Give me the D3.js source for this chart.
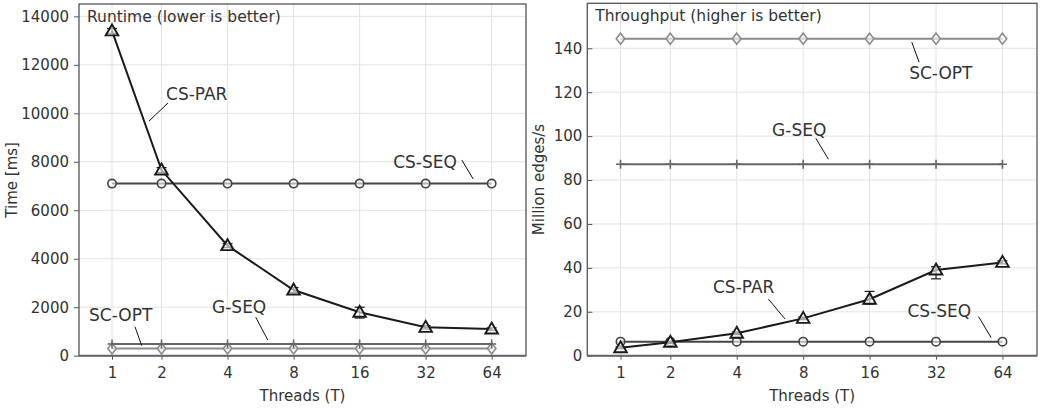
<!DOCTYPE html>
<html>
<head>
<meta charset="utf-8">
<script src="https://cdn.jsdelivr.net/npm/d3@7"></script>
<style>
  body { margin: 0; background: #fff; }
  svg text { font-family: "DejaVu Sans", sans-serif; fill: #333; }
</style>
</head>
<body>
<div id="chart"></div>
<script>
// thread counts on the x axis
var threads = [1, 2, 4, 8, 16, 32, 64];

// runtime in ms (left panel)
var rtCsPar = [13400, 7660, 4540, 2710, 1790, 1170, 1100];
var rtCsParLo = [13300, 7560, 4460, 2610, 1555, 1100, 1050];
var rtCsParHi = [13500, 7760, 4620, 2810, 2000, 1240, 1150];
var rtCsSeq = [7100, 7100, 7100, 7100, 7100, 7100, 7100];
var rtGSeq = [480, 480, 480, 480, 480, 480, 480];
var rtScOpt = [300, 300, 300, 300, 300, 300, 300];
var rtTicks = [0, 2000, 4000, 6000, 8000, 10000, 12000, 14000];

// throughput in million edges/s (right panel)
var tpCsPar = [3.6, 6.1, 10.2, 17.0, 25.7, 39.0, 42.5];
var tpCsParLo = [3.2, 5.6, 9.6, 16.4, 23.5, 35.0, 41.8];
var tpCsParHi = [4.0, 6.6, 10.8, 17.6, 29.3, 40.5, 43.2];
var tpCsSeq = [6.4, 6.4, 6.4, 6.4, 6.4, 6.4, 6.4];
var tpGSeq = [87.2, 87.2, 87.2, 87.2, 87.2, 87.2, 87.2];
var tpScOpt = [144.4, 144.4, 144.4, 144.4, 144.4, 144.4, 144.4];
var tpTicks = [0, 20, 40, 60, 80, 100, 120, 140];

var W = 1041, H = 411;
var svg = d3.select('#chart').append('svg').attr('width', W).attr('height', H);

// the x axis is log2 spaced, except that 1 sits a bit closer to 2
function xpos(t) { return t === 1 ? 0.25 : Math.log2(t); }

var styles = {
    'CS-PAR': {color: '#1a1a1a', marker: 'triangle'},
    'CS-SEQ': {color: '#444', marker: 'circle'},
    'G-SEQ': {color: '#666', marker: 'plus'},
    'SC-OPT': {color: '#8c8c8c', marker: 'diamond'}
};

function drawPanel(opt) {
    var x = d3.scaleLinear().domain([-0.25, 6.52]).range([opt.left, opt.right]);
    var y = d3.scaleLinear().domain([0, opt.ymax]).range([opt.bottom, opt.top]);
    var g = svg.append('g');

    // grid
    g.selectAll('.vg').data(threads).enter().append('line')
        .attr('x1', function(d){ return x(xpos(d)); }).attr('x2', function(d){ return x(xpos(d)); })
        .attr('y1', opt.top).attr('y2', opt.bottom)
        .attr('stroke', '#e3e3e3').attr('stroke-width', 1);
    g.selectAll('.hg').data(opt.ticks.slice(1)).enter().append('line')
        .attr('x1', opt.left).attr('x2', opt.right)
        .attr('y1', function(d){ return y(d); }).attr('y2', function(d){ return y(d); })
        .attr('stroke', '#e3e3e3').attr('stroke-width', 1);

    // axes
    var ya = opt.tickInside ? d3.axisRight(y) : d3.axisLeft(y);
    var yg = g.append('g').attr('transform', 'translate(' + opt.left + ',0)')
        .call(ya.tickValues(opt.ticks).tickFormat(d3.format('d')).tickSize(5).tickPadding(5));
    yg.select('.domain').remove();
    yg.selectAll('line').attr('stroke', '#555');
    yg.selectAll('text').attr('font-size', 15).attr('fill', '#333');
    if (opt.tickInside) {
        yg.selectAll('text').attr('text-anchor', 'end').attr('x', -5);
    }

    var xa = d3.axisBottom(x).tickValues(threads.map(xpos))
        .tickFormat(function(d, i){ return threads[i]; }).tickSize(4).tickPadding(8);
    var xg = g.append('g').attr('transform', 'translate(0,' + opt.bottom + ')').call(xa);
    xg.select('.domain').remove();
    xg.selectAll('line').attr('stroke', '#555');
    xg.selectAll('text').attr('font-size', 15).attr('fill', '#333');

    // frame
    g.append('rect').attr('x', opt.left).attr('y', opt.top)
        .attr('width', opt.right - opt.left).attr('height', opt.bottom - opt.top)
        .attr('fill', 'none').attr('stroke', '#555').attr('stroke-width', 1.3);
    g.append('line').attr('x1', opt.left).attr('x2', opt.right).attr('y1', opt.bottom).attr('y2', opt.bottom)
        .attr('stroke', '#666').attr('stroke-width', 2);

    // labels
    g.append('text').attr('x', (opt.left + opt.right) / 2).attr('y', 401)
        .attr('text-anchor', 'middle').attr('font-size', 15).text('Threads (T)');
    g.append('text').attr('transform', 'translate(' + opt.ylabelX + ',' + ((opt.top + opt.bottom) / 2) + ') rotate(-90)')
        .attr('text-anchor', 'middle').attr('font-size', 15).text(opt.ylabel);
    g.append('text').attr('x', opt.left + 8).attr('y', opt.top + 18)
        .attr('font-size', 15.5).attr('fill', '#111').text(opt.title);

    var line = d3.line().x(function(d){ return x(xpos(d.t)); }).y(function(d){ return y(d.v); });

    opt.series.forEach(function(s) {
        var st = styles[s.name];
        var pts = threads.map(function(t, i){ return {t: t, v: s.values[i], lo: s.lo ? s.lo[i] : null, hi: s.hi ? s.hi[i] : null}; });
        g.append('path').datum(pts).attr('d', line).attr('fill', 'none')
            .attr('stroke', st.color).attr('stroke-width', 2);
        if (s.lo) {
            var eb = g.selectAll(null).data(pts).enter().append('g').attr('stroke', st.color).attr('stroke-width', 1.2);
            eb.append('line').attr('x1', function(d){ return x(xpos(d.t)); }).attr('x2', function(d){ return x(xpos(d.t)); })
                .attr('y1', function(d){ return y(d.lo); }).attr('y2', function(d){ return y(d.hi); });
            ['lo', 'hi'].forEach(function(k) {
                eb.append('line').attr('x1', function(d){ return x(xpos(d.t)) - 5; }).attr('x2', function(d){ return x(xpos(d.t)) + 5; })
                    .attr('y1', function(d){ return y(d[k]); }).attr('y2', function(d){ return y(d[k]); });
            });
        }
        var m = g.selectAll(null).data(pts).enter().append('path')
            .attr('transform', function(d){ return 'translate(' + x(xpos(d.t)) + ',' + y(d.v) + ')'; })
            .attr('fill', st.marker === 'plus' ? 'none' : 'rgba(255,255,255,0.6)')
            .attr('stroke', st.color).attr('stroke-width', st.marker === 'triangle' ? 1.9 : 1.6);
        if (st.marker === 'triangle') m.attr('d', 'M0,-6.5L6.3,4.5L-6.3,4.5Z');
        else if (st.marker === 'circle') m.attr('d', d3.symbol(d3.symbolCircle, 55)());
        else if (st.marker === 'diamond') m.attr('d', 'M0,-5.5L4.3,0L0,5.5L-4.3,0Z');
        else m.attr('d', 'M-4.5,0H4.5M0,-4.5V4.5');
    });

    // callouts
    opt.callouts.forEach(function(c) {
        g.append('line').attr('x1', x(c.l[0])).attr('y1', y(c.l[1])).attr('x2', x(c.l[2])).attr('y2', y(c.l[3]))
            .attr('stroke', '#111').attr('stroke-width', 1);
        g.append('text').attr('x', x(c.t[0])).attr('y', y(c.t[1]))
            .attr('font-size', 17).attr('fill', '#111').text(c.name);
    });
}

drawPanel({
    left: 79, right: 526, top: 4, bottom: 355.7, ymax: 14510,
    ticks: rtTicks, tickInside: false, ylabel: 'Time [ms]', ylabelX: 17,
    title: 'Runtime (lower is better)',
    series: [
        {name: 'SC-OPT', values: rtScOpt},
        {name: 'G-SEQ', values: rtGSeq},
        {name: 'CS-SEQ', values: rtCsSeq},
        {name: 'CS-PAR', values: rtCsPar, lo: rtCsParLo, hi: rtCsParHi}
    ],
    callouts: [
        {name: 'CS-PAR', t: [1.068, 10549], l: [1.098, 10425, 0.811, 9683]},
        {name: 'CS-SEQ', t: [4.508, 7743], l: [5.548, 8073, 5.72, 7290]},
        {name: 'SC-OPT', t: [-0.098, 1444], l: [0.598, 1196, 0.70, 412]},
        {name: 'G-SEQ', t: [1.765, 1762], l: [2.427, 1584, 2.609, 648]}
    ]
});

drawPanel({
    left: 587.3, right: 1037, top: 3.3, bottom: 355.7, ymax: 160.5,
    ticks: tpTicks, tickInside: true, ylabel: 'Million edges/s', ylabelX: 544,
    title: 'Throughput (higher is better)',
    series: [
        {name: 'SC-OPT', values: tpScOpt},
        {name: 'G-SEQ', values: tpGSeq},
        {name: 'CS-SEQ', values: tpCsSeq},
        {name: 'CS-PAR', values: tpCsPar, lo: tpCsParLo, hi: tpCsParHi}
    ],
    callouts: [
        {name: 'SC-OPT', t: [4.595, 126.1], l: [4.635, 142.8, 4.745, 133.7]},
        {name: 'G-SEQ', t: [2.532, 100.2], l: [3.19, 99.0, 3.38, 89.5]},
        {name: 'CS-PAR', t: [1.642, 28.4], l: [2.476, 25.8, 2.727, 16.7]},
        {name: 'CS-SEQ', t: [4.57, 17.8], l: [5.64, 17.8, 5.83, 8.2]}
    ]
});
</script>
</body>
</html>
